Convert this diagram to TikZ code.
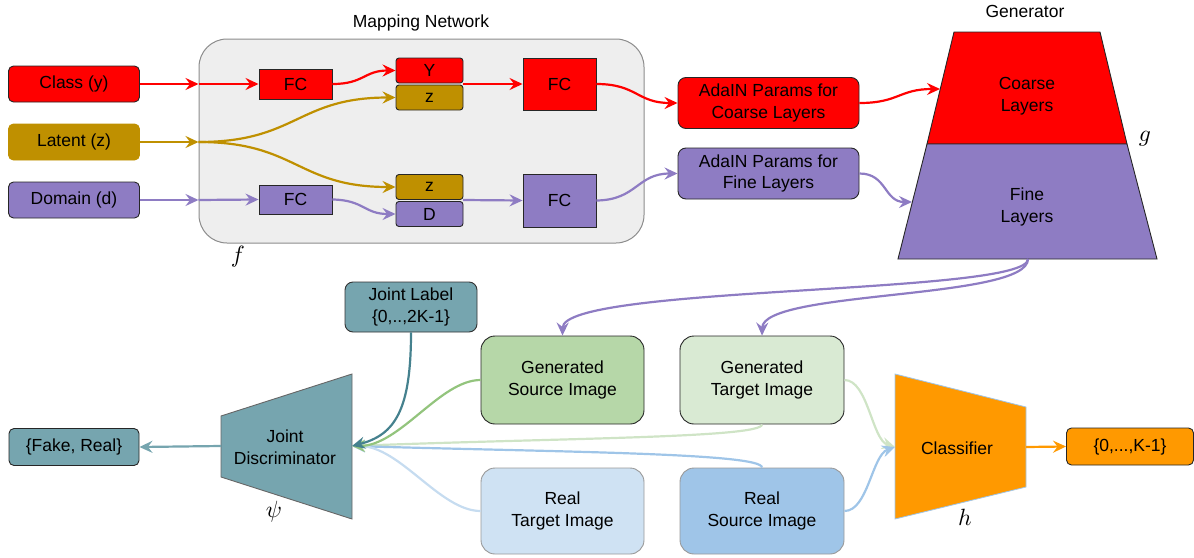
\documentclass[tikz,border=0pt]{standalone}
\usepackage{fontspec}
\setmainfont{Liberation Sans}
\usetikzlibrary{arrows.meta}
\definecolor{cred}{HTML}{FF0000}
\definecolor{cgold}{HTML}{BF9000}
\definecolor{cpurple}{HTML}{8E7CC3}
\definecolor{cteal}{HTML}{76A5AF}
\definecolor{cdteal}{HTML}{45818E}
\definecolor{cgreen}{HTML}{B6D7A8}
\definecolor{cgreenline}{HTML}{93C47D}
\definecolor{clgreen}{HTML}{D9EAD3}
\definecolor{clgreenline}{HTML}{CFE4C6}
\definecolor{clblue}{HTML}{CFE2F3}
\definecolor{clblueline}{HTML}{C6DCF0}
\definecolor{cblue}{HTML}{9FC5E8}
\definecolor{corange}{HTML}{FF9900}
\definecolor{cgray}{HTML}{EEEEEE}
\newcommand{\mbig}[1]{\scalebox{2.35}{$#1$}}
\tikzset{
 lbl/.style={font=\fontsize{17.5}{21.5}\selectfont, align=center, text=black},
 bx/.style={lbl, draw=black!85, line width=0.9pt, inner sep=0pt},
 arr/.style={line width=2.2pt, -{Stealth[length=13pt,width=12pt,inset=4.5pt]}},
 mlab/.style={inner sep=0pt},
}
\begin{document}
\begin{tikzpicture}[x=1pt,y=-1pt]
\useasboundingbox (0,0) rectangle (1194,557);
% ---------- mapping network ----------
\node[draw=black!45, fill=cgray, line width=1pt, rounded corners=28pt, minimum width=445pt, minimum height=204pt, inner sep=0pt] (map) at (421.5,141) {};
\node[lbl] (maptitle) at (421,23) {Mapping Network};
\node[mlab] (flab) at (238,257) {\mbig{f}};

\node[bx, fill=cred, rounded corners=5pt, minimum width=131pt, minimum height=36pt] (class) at (74,84) {Class (y)};
\node[bx, draw=cgold, fill=cgold, rounded corners=5pt, minimum width=131pt, minimum height=36pt] (latent) at (74,142) {Latent (z)};
\node[bx, fill=cpurple, rounded corners=5pt, minimum width=131pt, minimum height=36pt] (domain) at (74,200) {Domain (d)};

\node[bx, fill=cred, minimum width=73pt, minimum height=30pt] (fc1) at (295.5,84) {FC};
\node[bx, fill=cred, rounded corners=3pt, minimum width=67pt, minimum height=25pt] (ybox) at (429.5,70.5) {Y};
\node[bx, fill=cgold, rounded corners=3pt, minimum width=67pt, minimum height=25pt] (zbox1) at (429.5,97.5) {z};
\node[bx, fill=cred, minimum width=73pt, minimum height=52pt] (fc2) at (559.5,84) {FC};

\node[bx, fill=cpurple, minimum width=73pt, minimum height=29pt] (fc3) at (295.5,199.5) {FC};
\node[bx, fill=cgold, rounded corners=3pt, minimum width=67pt, minimum height=25pt] (zbox2) at (429.5,187) {z};
\node[bx, fill=cpurple, rounded corners=3pt, minimum width=67pt, minimum height=25pt] (dbox) at (429.5,214) {D};
\node[bx, fill=cpurple, minimum width=73pt, minimum height=53pt] (fc4) at (559.5,200.5) {FC};

\coordinate (m1) at (map.west |- class.east);
\coordinate (m2) at (map.west |- latent.east);
\coordinate (m3) at (map.west |- domain.east);
\coordinate (yzr) at (463,84);
\coordinate (zdr) at (463,200);

% ---------- AdaIN ----------
\node[bx, fill=cred, rounded corners=8pt, minimum width=181pt, minimum height=51pt] (adac) at (768.5,103) {AdaIN Params for\\Coarse Layers};
\node[bx, fill=cpurple, rounded corners=8pt, minimum width=181pt, minimum height=51pt] (adaf) at (768.5,173.5) {AdaIN Params for\\Fine Layers};

% ---------- generator ----------
\filldraw[fill=cred, draw=black!85, line width=0.9pt] (954,32) -- (1100,32) -- (1127,144) -- (927,144) -- cycle;
\filldraw[fill=cpurple, draw=black!85, line width=0.9pt] (927,144) -- (1127,144) -- (1157,259) -- (898,259) -- cycle;
\node[lbl] (gentitle) at (1025,11) {Generator};
\node[lbl] (coarse) at (1027,96) {Coarse\\Layers};
\node[lbl] (fine) at (1027,207) {Fine\\Layers};
\node[mlab] (glab) at (1145,139) {\mbig{g}};
\coordinate (gc) at (940,89);
\coordinate (gf) at (912,202);
\coordinate (gb) at (1028,259);

% ---------- bottom ----------
\node[bx, draw=black!80, fill=cteal, rounded corners=8pt, minimum width=132pt, minimum height=50pt] (jl) at (411,307) {Joint Label\\\{0,..,2K-1\}};
\node[bx, fill=cgreen, rounded corners=14pt, minimum width=163pt, minimum height=88pt] (gs) at (562.5,380) {Generated\\Source Image};
\node[bx, fill=clgreen, rounded corners=14pt, minimum width=164pt, minimum height=88pt] (gt) at (762,380) {Generated\\Target Image};
\node[bx, draw=black!40, fill=clblue, rounded corners=14pt, minimum width=163pt, minimum height=86pt] (rt) at (562.5,511) {Real\\Target Image};
\node[bx, draw=black!40, fill=cblue, rounded corners=14pt, minimum width=164pt, minimum height=86pt] (rs) at (762,511) {Real\\Source Image};

\filldraw[fill=cteal, draw=black!60, line width=0.9pt] (221,416) -- (352,374) -- (352,519) -- (221,477) -- cycle;
\node[lbl] (disc) at (285,447) {Joint\\Discriminator};
\node[mlab] (psilab) at (274,512) {\mbig{\psi}};
\coordinate (dr) at (352,446);
\coordinate (dl) at (221,446);
\node[bx, fill=cteal, rounded corners=5pt, minimum width=130pt, minimum height=37pt] (fr) at (74,447) {\{Fake, Real\}};

\filldraw[fill=corange, draw=cblue, line width=0.8pt] (895,374) -- (1026,407) -- (1026,487) -- (895,519) -- cycle;
\node[lbl] (cls) at (957,448) {Classifier};
\node[mlab] (hlab) at (965,517) {\mbig{h}};
\coordinate (cl) at (895,447);
\coordinate (cr) at (1026,447);
\node[bx, fill=corange, rounded corners=5pt, minimum width=127pt, minimum height=37pt] (ko) at (1130,446.5) {\{0,...,K-1\}};

% ---------- connectors: top ----------
\draw[arr, cred] (class.east) -- (m1);
\draw[arr, cred] (m1) -- (fc1.west);
\draw[arr, cred] (fc1.east) .. controls (364,84) and (364,70.5) .. (ybox.west);
\draw[arr, cred] (yzr) -- (fc2.west);
\draw[arr, cred] (fc2.east) .. controls (637,84) and (637,103) .. (adac.west);
\draw[arr, cred] (adac.east) .. controls (899,103) and (899,89) .. (gc);

\draw[arr, cgold] (latent.east) -- (m2);
\draw[arr, cgold] (m2) .. controls (297,142) and (297,97.5) .. (zbox1.west);
\draw[arr, cgold] (m2) .. controls (297,142) and (297,187) .. (zbox2.west);

\draw[arr, cpurple] (domain.east) -- (m3);
\draw[arr, cpurple] (m3) -- (fc3.west);
\draw[arr, cpurple] (fc3.east) .. controls (364,200) and (364,214) .. (dbox.west);
\draw[arr, cpurple] (zdr) -- (fc4.west);
\draw[arr, cpurple] (fc4.east) .. controls (637,200) and (637,173.5) .. (adaf.west);
\draw[arr, cpurple] (adaf.east) .. controls (887,173.5) and (884,202) .. (gf);

\draw[arr, cpurple] (gb) .. controls (1028,295) and (563,285) .. (gs.north);
\draw[arr, cpurple] (gb) .. controls (1028,300) and (763,290) .. (gt.north);

% ---------- connectors: bottom ----------
\draw[arr, clgreenline] (gt.south) .. controls (762,438) and (560,438) .. (dr);
\draw[arr, cblue] (rs.north) .. controls (762,453) and (560,452) .. (dr);
\draw[arr, clblueline] (rt.west) .. controls (440,511) and (400,446) .. (dr);
\draw[arr, cgreenline] (gs.west) .. controls (440,380) and (400,446) .. (dr);
\draw[arr, cdteal] (jl.south) .. controls (411,410) and (395,435) .. (dr);
\draw[arr, cteal] (dl) -- (fr.east);

\draw[arr, clgreenline] (gt.east) .. controls (868,380) and (872,440) .. (cl);
\draw[arr, cblue] (rs.east) .. controls (868,511) and (872,455) .. (cl);
\draw[arr, corange] (cr) -- (ko.west);
\end{tikzpicture}
\end{document}
